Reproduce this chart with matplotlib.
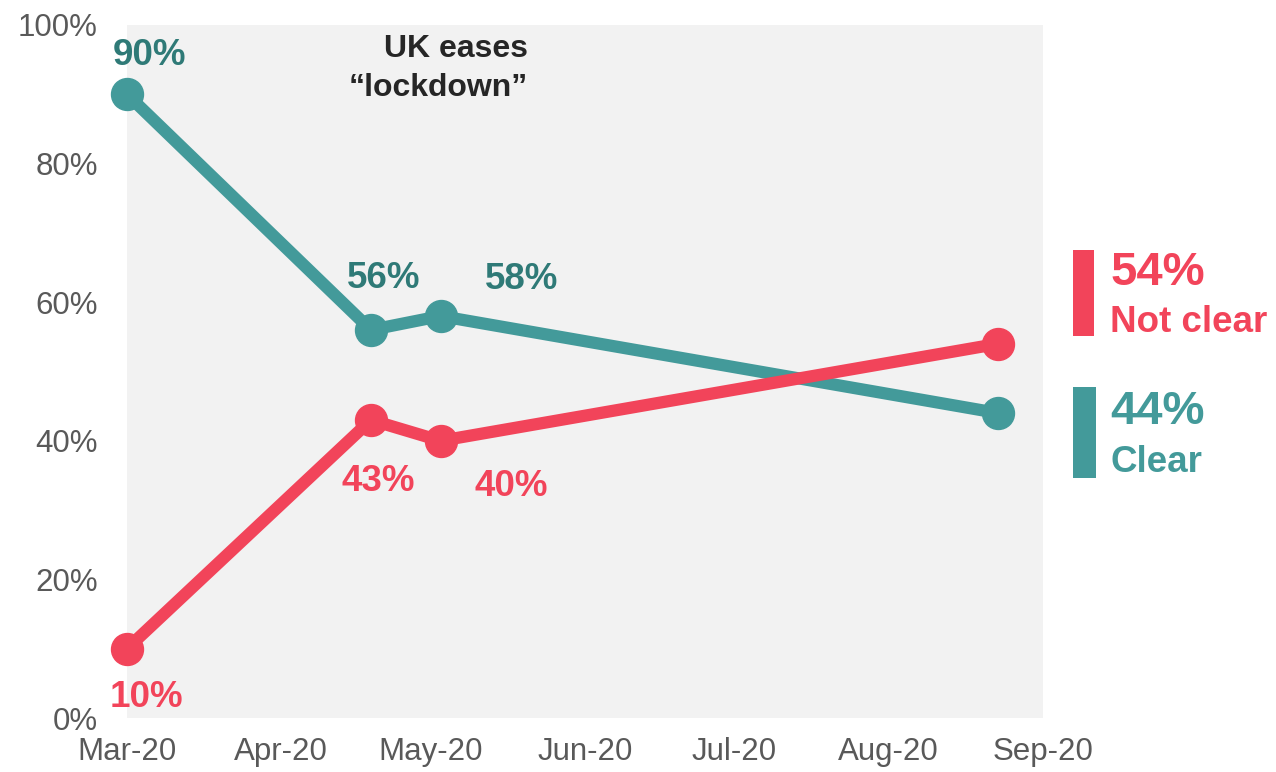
import matplotlib.pyplot as plt
import matplotlib.dates as mdates
from matplotlib.patches import Rectangle
import numpy as np

plt.rcParams['font.family'] = ['Liberation Sans', 'DejaVu Sans']

# survey waves and shares (%)
wave_dates = ['2020-03-01', '2020-04-19', '2020-05-03', '2020-08-23']
clear = [90, 56, 58, 44]
not_clear = [10, 43, 40, 54]
month_ticks = ['2020-03-01', '2020-04-01', '2020-05-01', '2020-06-01',
               '2020-07-01', '2020-08-01', '2020-09-01']
y_ticks = [0, 20, 40, 60, 80, 100]

TEAL = '#439A9A'
TEAL_DARK = '#2F7A77'
RED = '#F2445A'
GREY_TXT = '#595959'

W, H = 1276, 772
fig = plt.figure(figsize=(W / 100, H / 100), dpi=100)


def px(x, y):
    # pixel (from top-left) -> figure fraction
    return x / W, 1 - y / H


ax = fig.add_axes([127 / W, (H - 718) / H, 916 / W, 693 / H])
ax.set_facecolor('#F2F2F2')
for s in ax.spines.values():
    s.set_visible(False)

x = mdates.datestr2num(wave_dates)
ax.plot(x, clear, color=TEAL, lw=8.8, marker='o', ms=23, zorder=3,
        solid_capstyle='round', clip_on=False)
ax.plot(x, not_clear, color=RED, lw=8.8, marker='o', ms=23, zorder=4,
        solid_capstyle='round', clip_on=False)

ax.set_xlim(mdates.datestr2num('2020-03-01'), mdates.datestr2num('2020-09-01'))
ax.set_ylim(0, 100)
ax.set_xticks(mdates.datestr2num(month_ticks))
ax.xaxis.set_major_formatter(mdates.DateFormatter('%b-%y'))
ax.set_yticks(y_ticks)
ax.set_yticklabels(['%d%%' % v for v in y_ticks])
ax.tick_params(length=0, labelsize=22.5, colors=GREY_TXT)
ax.tick_params(axis='y', pad=21)
ax.tick_params(axis='x', pad=14)

# point labels, offsets in points
clear_off = [(16, 28), (9, 37), (58, 26)]
red_off = [(14, -35), (5, -44), (51, -33)]
for i in range(3):
    ax.annotate('%d%%' % clear[i], (x[i], clear[i]), xytext=clear_off[i],
                textcoords='offset points', ha='center', va='center',
                fontsize=26.5, fontweight='bold', color=TEAL_DARK, zorder=5)
    ax.annotate('%d%%' % not_clear[i], (x[i], not_clear[i]), xytext=red_off[i],
                textcoords='offset points', ha='center', va='center',
                fontsize=26.5, fontweight='bold', color=RED, zorder=5)

fig.text(*px(528, 49), 'UK eases', ha='right', va='center',
         fontsize=23, fontweight='bold', color='#262626')
fig.text(*px(528, 88), '\u201clockdown\u201d', ha='right', va='center',
         fontsize=23, fontweight='bold', color='#262626')

# end labels on the right
x0, y0 = px(1073, 336)
fig.add_artist(Rectangle((x0, y0), 21 / W, 86 / H, transform=fig.transFigure,
                         color=RED, lw=0))
x0, y0 = px(1073, 478)
fig.add_artist(Rectangle((x0, y0), 23 / W, 91 / H, transform=fig.transFigure,
                         color=TEAL, lw=0))
fig.text(*px(1110, 273), '%d%%' % not_clear[-1], ha='left', va='center',
         fontsize=34, fontweight='bold', color=RED)
fig.text(*px(1110, 323), 'Not clear', ha='left', va='center',
         fontsize=26.5, fontweight='bold', color=RED)
fig.text(*px(1110, 412), '%d%%' % clear[-1], ha='left', va='center',
         fontsize=34, fontweight='bold', color=TEAL)
fig.text(*px(1110, 462), 'Clear', ha='left', va='center',
         fontsize=26.5, fontweight='bold', color=TEAL)

fig.savefig('out.png', dpi=100)
